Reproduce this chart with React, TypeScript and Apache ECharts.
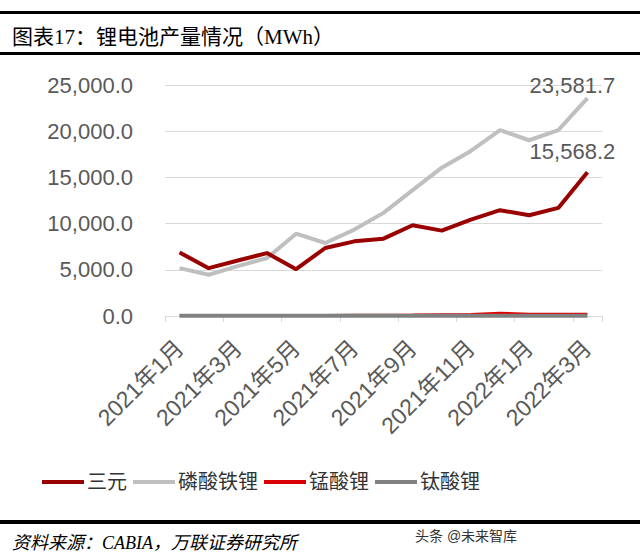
import React, { useEffect, useRef } from "react";
import * as echarts from "echarts";

const categories = [
  "2021年1月", "2021年2月", "2021年3月", "2021年4月", "2021年5月", "2021年6月",
  "2021年7月", "2021年8月", "2021年9月", "2021年10月", "2021年11月", "2021年12月",
  "2022年1月", "2022年2月", "2022年3月",
];
const ternary = [6880, 5180, 6000, 6810, 5070, 7360, 8080, 8370, 9820, 9240, 10430, 11450, 10900, 11700, 15568.2];
const lfp = [5180, 4460, 5400, 6270, 8910, 7900, 9350, 11160, 13620, 16050, 17860, 20110, 19020, 20110, 23581.7];
const lmo = [60, 60, 70, 80, 100, 120, 130, 140, 150, 180, 220, 360, 250, 240, 230];
const lto = [20, 20, 20, 20, 20, 20, 20, 20, 20, 20, 20, 20, 20, 20, 20];
const seriesNames = ["三元", "磷酸铁锂", "锰酸锂", "钛酸锂"];
const yTicks = { min: 0, max: 25000, interval: 5000 };

const fmt = (v: number) =>
  Number(v).toLocaleString("en-US", { minimumFractionDigits: 1, maximumFractionDigits: 1 });

const CJK = "Liberation Sans, Noto Sans CJK SC, sans-serif";
const SERIF = "Liberation Serif, Noto Sans CJK SC, serif";

export default function App() {
  const ref = useRef<HTMLDivElement>(null);
  useEffect(() => {
    if (!ref.current) return;
    const chart = echarts.init(ref.current, null, { renderer: "svg" });
    const last = categories.length - 1;
    const endLabel = (dist: number) => ({
      show: true,
      position: "top",
      distance: dist,
      offset: [-15, 0],
      color: "#595959",
      fontSize: 22,
      fontFamily: CJK,
      formatter: (p: any) => (p.dataIndex === last ? fmt(p.value) : ""),
    });
    chart.setOption({
      animation: false,
      backgroundColor: "#ffffff",
      grid: { left: 165, right: 38, top: 85, bottom: 244 },
      legend: {
        left: 42,
        top: 472,
        padding: 0,
        itemWidth: 42,
        itemHeight: 4,
        itemGap: 6,
        icon: "rect",
        textStyle: { fontSize: 20, color: "#333", fontFamily: SERIF, padding: [0, 0, 0, -2] },
        data: seriesNames,
      },
      xAxis: {
        type: "category",
        data: categories,
        boundaryGap: true,
        axisLine: { lineStyle: { color: "#D9D9D9", width: 1 } },
        axisTick: { show: true, interval: 1, length: 6, lineStyle: { color: "#D9D9D9" } },
        axisLabel: {
          interval: 1,
          rotate: 45,
          margin: 28,
          fontSize: 23,
          color: "#595959",
          fontFamily: CJK,
        },
      },
      yAxis: {
        type: "value",
        min: yTicks.min,
        max: yTicks.max,
        interval: yTicks.interval,
        axisLine: { show: false },
        axisTick: { show: false },
        splitLine: { lineStyle: { color: "#D9D9D9", width: 1 } },
        axisLabel: {
          formatter: (v: number) => fmt(v),
          fontSize: 22,
          color: "#595959",
          margin: 32,
          fontFamily: CJK,
        },
      },
      series: [
        {
          name: seriesNames[0],
          type: "line",
          data: ternary,
          symbol: "circle",
          symbolSize: 0.01,
          showAllSymbol: true,
          color: "#990000",
          lineStyle: { width: 4, color: "#990000" },
          label: endLabel(10),
          z: 3,
        },
        {
          name: seriesNames[1],
          type: "line",
          data: lfp,
          symbol: "circle",
          symbolSize: 0.01,
          showAllSymbol: true,
          color: "#BFBFBF",
          lineStyle: { width: 4, color: "#BFBFBF" },
          label: endLabel(2),
          z: 2,
        },
        {
          name: seriesNames[2],
          type: "line",
          data: lmo,
          symbol: "none",
          color: "#D90000",
          lineStyle: { width: 2, color: "#E00000" },
          z: 2,
        },
        {
          name: seriesNames[3],
          type: "line",
          data: lto,
          symbol: "none",
          color: "#808080",
          lineStyle: { width: 4, color: "#808080" },
          z: 4,
        },
      ],
      graphic: [
        { type: "rect", shape: { x: 0, y: 11, width: 640, height: 3 }, style: { fill: "#000" } },
        {
          type: "text",
          x: 12,
          y: 37,
          style: {
            text: "图表17：锂电池产量情况（MWh）",
            fontSize: 21,
            fill: "#000",
            fontFamily: SERIF,
            verticalAlign: "middle",
          },
        },
        { type: "rect", shape: { x: 0, y: 52, width: 640, height: 3 }, style: { fill: "#000" } },
        { type: "rect", shape: { x: 0, y: 520, width: 640, height: 4 }, style: { fill: "#000" } },
        {
          type: "text",
          x: 12,
          y: 543,
          style: {
            text: "资料来源：CABIA，万联证券研究所",
            fontSize: 18,
            fontStyle: "italic",
            fill: "#000",
            fontFamily: SERIF,
            verticalAlign: "middle",
          },
        },
        {
          type: "text",
          x: 415,
          y: 536,
          style: {
            text: "头条 @未来智库",
            fontSize: 14,
            fill: "#333",
            fontFamily: CJK,
            verticalAlign: "middle",
          },
        },
      ],
    });
    return () => chart.dispose();
  }, []);
  return (
    <div
      ref={ref}
      style={{ position: "absolute", left: 0, top: 0, width: 640, height: 560, background: "#fff" }}
    />
  );
}
